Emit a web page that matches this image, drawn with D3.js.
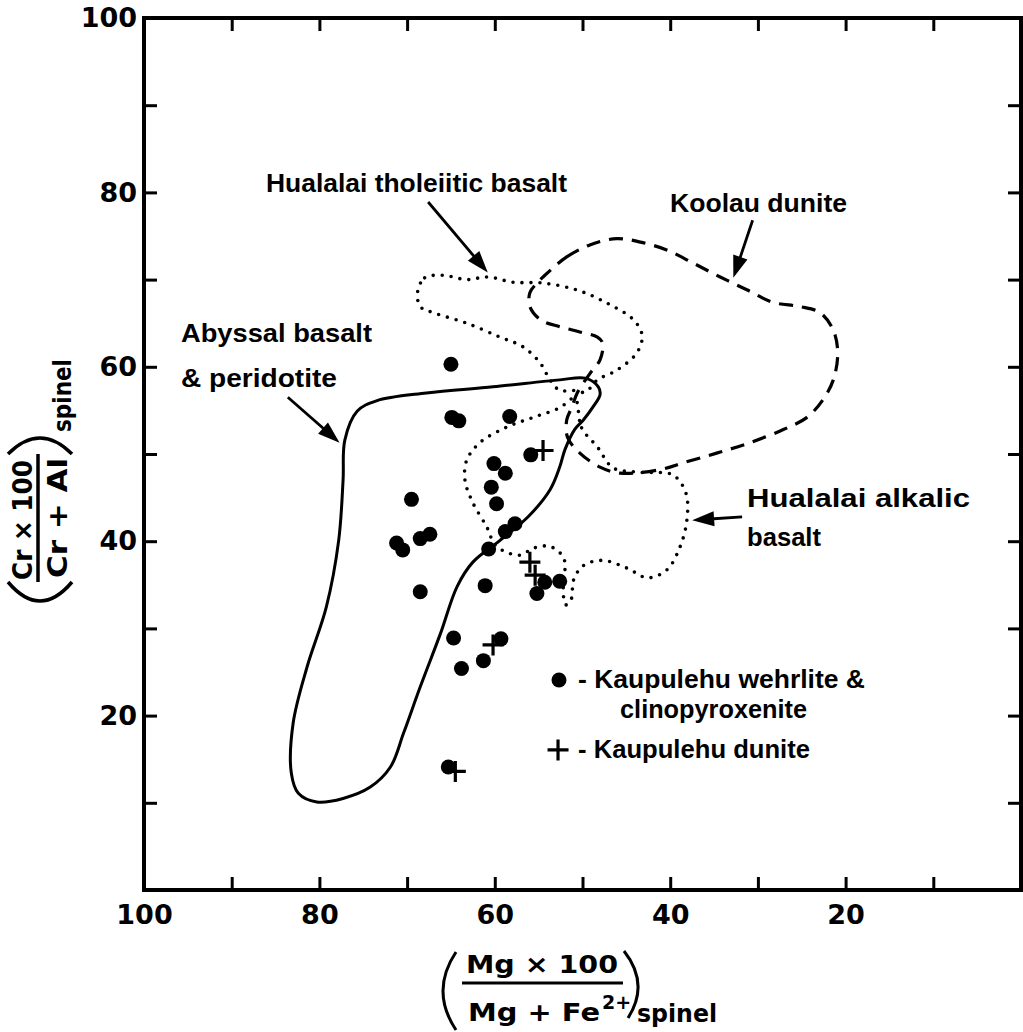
<!DOCTYPE html>
<html><head><meta charset="utf-8">
<script src="https://cdn.jsdelivr.net/npm/d3@7"></script>
<style>body{margin:0;background:#fff}</style>
</head><body>
<svg id="c" width="1023" height="1032"></svg>
<script>
// ---------- DATA ----------
const xLabelValues = [100, 80, 60, 40, 20];
const yLabelValues = [100, 80, 60, 40, 20];
const tickSteps = [10, 20, 30, 40, 50, 60, 70, 80, 90];

// Kaupulehu wehrlite & clinopyroxenite  [Mg#, Cr#]
const wehrlite = [
  [65.0,60.3],[64.9,54.2],[64.1,53.8],[58.3,54.3],[55.9,49.9],[60.1,48.9],
  [58.8,47.8],[60.4,46.2],[59.8,44.3],[69.5,44.8],[71.2,39.8],[70.5,39.0],
  [68.5,40.3],[67.4,40.8],[57.7,42.0],[58.8,41.1],[60.7,39.1],[68.5,34.2],
  [61.1,34.9],[55.2,34.0],[54.3,35.3],[52.6,35.4],[64.7,28.9],[59.3,28.8],
  [63.8,25.4],[61.3,26.3],[65.3,14.1]
];
// Kaupulehu dunite
const dunite = [[54.5,50.4],[56.0,37.6],[55.4,36.1],[60.2,28.1],[64.5,13.6]];

// Field outlines
const abyssalField = [
  [49.7,58.7],[48.2,57.7],[48.0,56.8],[48.8,55.4],[49.9,53.9],[50.9,52.8],[52.0,50.5],
  [52.6,48.5],[53.7,45.9],[56.2,42.8],[59.4,40.1],[62.5,37.6],[64.3,34.8],[66.2,29.4],
  [68.5,23.3],[70.4,18.0],[71.9,14.1],[74.2,11.8],[77.3,10.5],[80.3,10.1],[82.4,11.1],
  [83.2,13.4],[83.0,19.1],[81.4,25.6],[79.2,32.5],[77.8,40.1],[77.3,47.0],[77.1,51.6],
  [75.7,54.9],[73.5,56.1],[67.8,57.0],[60.2,57.7],[52.6,58.5]
];
const tholeiiticField = [
  [68.8,68.6],[68.0,70.2],[65.9,70.5],[63.2,70.0],[60.8,70.3],[57.9,69.7],[54.5,69.6],
  [50.6,68.8],[47.2,67.3],[44.2,65.4],[43.2,63.6],[43.8,61.6],[46.1,59.6],[48.3,58.5],
  [49.7,57.1],[51.1,57.3],[52.6,57.3],[53.7,58.5],[54.8,60.4],[56.8,62.3],[59.4,63.4],
  [63.2,65.0],[67.0,66.2],[68.5,66.9]
];
const alkalicField = [
  [50.9,56.4],[50.1,53.0],[48.3,50.8],[46.5,48.4],[43.4,47.9],[39.7,47.6],[38.2,45.5],
  [38.1,42.4],[38.9,39.3],[40.4,36.7],[42.6,35.8],[44.9,36.9],[47.7,37.8],[49.9,37.2],
  [51.0,35.6],[51.3,33.3],[51.9,32.7],[52.2,34.1],[52.0,37.0],[52.2,38.2],[53.7,39.4],
  [55.6,39.2],[57.1,38.4],[58.8,38.8],[60.0,39.6],[60.9,41.6],[62.5,44.4],[63.4,47.0],
  [63.2,49.3],[61.7,51.3],[58.6,53.1],[55.6,54.2],[52.6,55.3]
];
const koolauField = [
  [54.5,70.3],[51.8,72.6],[49.1,74.0],[46.1,74.7],[43.4,74.3],[40.4,73.4],[37.4,71.9],
  [34.3,70.3],[31.2,68.8],[28.3,67.4],[25.2,66.9],[22.9,66.2],[21.4,64.2],[20.9,61.6],
  [21.4,58.5],[22.6,56.2],[24.4,54.2],[27.1,52.8],[30.9,51.3],[34.7,50.1],[38.5,49.0],
  [41.2,48.2],[45.7,47.8],[48.0,48.5],[50.3,50.1],[51.7,51.9],[51.8,53.9],[51.2,55.4],
  [50.6,57.0],[49.1,59.3],[48.0,60.8],[47.7,62.7],[48.3,63.4],[50.3,64.0],[52.6,64.6],
  [54.8,65.4],[56.0,66.9],[56.0,68.5],[55.2,69.6]
];

// Annotations: [text, startX, baselineY, widthPx]
const fieldLabels = [
  ["Hualalai  tholeiitic  basalt", 86.09, 80.05, 301],
  ["Koolau  dunite", 40.02, 77.75, 177],
  ["Abyssal  basalt", 95.78, 62.84, 191],
  ["& peridotite", 95.78, 57.68, 156],
  ["Hualalai  alkalic", 31.24, 43.92, 223],
  ["basalt", 31.24, 39.45, 74]
];
// Arrows: [fromX, fromY, tipX, tipY]
const arrows = [
  [67.6, 78.9, 60.8, 70.8],
  [30.6, 76.8, 32.8, 70.2],
  [83.6, 56.5, 77.7, 51.3],
  [31.8, 42.8, 37.5, 42.4]
];
const legendItems = [
  {symbol: "dot",  sx: 52.68, sy: 24.08, lines: [["- Kaupulehu  wehrlite  &", 50.51, 23.17, 287], ["clinopyroxenite", 45.72, 19.72, 187]]},
  {symbol: "plus", sx: 52.79, sy: 16.06, lines: [["- Kaupulehu  dunite", 50.51, 15.14, 232]]}
];

// ---------- DRAW ----------
const svg = d3.select("#c");
const x = d3.scaleLinear().domain([100, 0]).range([144, 1021]);
const y = d3.scaleLinear().domain([0, 100]).range([890, 18]);
const labelFont = "'Liberation Sans', Arial, sans-serif";
const numFont = "'DejaVu Sans', sans-serif";

const line = d3.line().x(d => x(d[0])).y(d => y(d[1])).curve(d3.curveCatmullRomClosed.alpha(0.5));

svg.append("path").attr("d", line(abyssalField)).attr("fill", "none")
  .attr("stroke", "#000").attr("stroke-width", 3).attr("stroke-linejoin", "round");
svg.append("path").attr("d", line(tholeiiticField)).attr("fill", "none")
  .attr("stroke", "#000").attr("stroke-width", 3.6).attr("stroke-linecap", "round")
  .attr("stroke-dasharray", "0 9");
svg.append("path").attr("d", line(alkalicField)).attr("fill", "none")
  .attr("stroke", "#000").attr("stroke-width", 3.6).attr("stroke-linecap", "round")
  .attr("stroke-dasharray", "0 9");
svg.append("path").attr("d", line(koolauField)).attr("fill", "none")
  .attr("stroke", "#000").attr("stroke-width", 3.2)
  .attr("stroke-dasharray", "14 9");

// points
svg.append("g").selectAll("circle").data(wehrlite).join("circle")
  .attr("cx", d => x(d[0])).attr("cy", d => y(d[1])).attr("r", 7.5).attr("fill", "#000");
const plusPath = (cx, cy, h) => `M${cx - h},${cy}H${cx + h}M${cx},${cy - h}V${cy + h}`;
svg.append("g").selectAll("path").data(dunite).join("path")
  .attr("d", d => plusPath(x(d[0]), y(d[1]), 10.5))
  .attr("stroke", "#000").attr("stroke-width", 3.2).attr("fill", "none");

// arrows
arrows.forEach(a => {
  const x0 = x(a[0]), y0 = y(a[1]), x1 = x(a[2]), y1 = y(a[3]);
  const dx = x1 - x0, dy = y1 - y0, L = Math.hypot(dx, dy);
  const ux = dx / L, uy = dy / L, nx = -uy, ny = ux;
  const hl = 22, hw = 7.5;
  svg.append("line").attr("x1", x0).attr("y1", y0)
    .attr("x2", x1 - ux * (hl - 4)).attr("y2", y1 - uy * (hl - 4))
    .attr("stroke", "#000").attr("stroke-width", 2.8);
  const bx = x1 - ux * hl, by = y1 - uy * hl;
  svg.append("path")
    .attr("d", `M${x1},${y1}L${bx + nx * hw},${by + ny * hw}L${bx - nx * hw},${by - ny * hw}Z`)
    .attr("fill", "#000");
});

// field labels
function addText(t) {
  svg.append("text").attr("x", x(t[1])).attr("y", y(t[2]))
    .attr("font-family", labelFont).attr("font-weight", "bold").attr("font-size", 25)
    .attr("textLength", t[3]).attr("lengthAdjust", "spacingAndGlyphs")
    .attr("fill", "#000").text(t[0]);
}
fieldLabels.forEach(addText);

// legend
legendItems.forEach(it => {
  if (it.symbol === "dot") {
    svg.append("circle").attr("cx", x(it.sx)).attr("cy", y(it.sy)).attr("r", 7.5).attr("fill", "#000");
  } else {
    svg.append("path").attr("d", plusPath(x(it.sx), y(it.sy), 10.5))
      .attr("stroke", "#000").attr("stroke-width", 3.2);
  }
  it.lines.forEach(addText);
});

// axes (ticks inward)
function styleAxis(g) {
  g.select(".domain").remove();
  g.selectAll(".tick line").attr("stroke", "#000").attr("stroke-width", 3);
  g.selectAll(".tick text").attr("font-family", numFont).attr("font-weight", "bold")
    .attr("font-size", 27).attr("fill", "#000");
}
const allX = tickSteps.concat([100]);
svg.append("g").attr("transform", `translate(0,${y(0)})`)
  .call(d3.axisBottom(x).tickValues(allX).tickSizeInner(-13).tickSizeOuter(0).tickPadding(15)
    .tickFormat(d => xLabelValues.includes(d) ? d : ""))
  .call(styleAxis);
svg.append("g").attr("transform", `translate(${x(100)},0)`)
  .call(d3.axisLeft(y).tickValues(tickSteps.concat([100])).tickSizeInner(-13).tickSizeOuter(0).tickPadding(7)
    .tickFormat(d => yLabelValues.includes(d) ? d : ""))
  .call(styleAxis);
svg.append("g").attr("transform", `translate(0,${y(100)})`)
  .call(d3.axisTop(x).tickValues(tickSteps).tickSizeInner(-13).tickSizeOuter(0).tickFormat(""))
  .call(styleAxis);
svg.append("g").attr("transform", `translate(${x(0)},0)`)
  .call(d3.axisRight(y).tickValues(tickSteps).tickSizeInner(-13).tickSizeOuter(0).tickFormat(""))
  .call(styleAxis);

svg.append("rect").attr("x", x(100)).attr("y", y(100))
  .attr("width", x(0) - x(100)).attr("height", y(0) - y(100))
  .attr("fill", "none").attr("stroke", "#000").attr("stroke-width", 4);

// x-axis title
const xt = svg.append("g").attr("font-family", numFont).attr("font-weight", "bold").attr("fill", "#000");
xt.append("text").attr("x", 542).attr("y", 973).attr("text-anchor", "middle").attr("font-size", 25)
  .attr("textLength", 152).attr("lengthAdjust", "spacingAndGlyphs").text("Mg × 100");
xt.append("line").attr("x1", 462).attr("x2", 623).attr("y1", 983).attr("y2", 983)
  .attr("stroke", "#000").attr("stroke-width", 3);
const den = xt.append("text").attr("x", 468).attr("y", 1021).attr("font-size", 25);
den.append("tspan").attr("textLength", 132).attr("lengthAdjust", "spacingAndGlyphs").text("Mg + Fe");
den.append("tspan").attr("font-size", 19).attr("dy", -12).attr("dx", 2).text("2+");
xt.append("text").attr("x", 637).attr("y", 1022).attr("font-size", 24)
  .attr("textLength", 80).attr("lengthAdjust", "spacingAndGlyphs").text("spinel");
xt.append("path").attr("d", "M456,952Q430,991 456,1030").attr("fill", "none")
  .attr("stroke", "#000").attr("stroke-width", 3);
xt.append("path").attr("d", "M624,951Q650,984 628,1018").attr("fill", "none")
  .attr("stroke", "#000").attr("stroke-width", 3);

// y-axis title (rotated)
const yt = svg.append("g").attr("transform", "translate(40,518) rotate(-90)")
  .attr("font-family", numFont).attr("font-weight", "bold").attr("fill", "#000");
yt.append("text").attr("x", -2).attr("y", -8).attr("text-anchor", "middle").attr("font-size", 27)
  .attr("textLength", 120).attr("lengthAdjust", "spacingAndGlyphs").text("Cr × 100");
yt.append("line").attr("x1", -64).attr("x2", 64).attr("y1", -2).attr("y2", -2)
  .attr("stroke", "#000").attr("stroke-width", 3.5);
yt.append("text").attr("x", 0).attr("y", 27).attr("text-anchor", "middle").attr("font-size", 27)
  .attr("textLength", 120).attr("lengthAdjust", "spacingAndGlyphs").text("Cr + Al");
yt.append("text").attr("x", 86).attr("y", 31).attr("font-size", 24)
  .attr("textLength", 73).attr("lengthAdjust", "spacingAndGlyphs").text("spinel");
yt.append("path").attr("d", "M-64,-32Q-102,0 -64,32").attr("fill", "none")
  .attr("stroke", "#000").attr("stroke-width", 3.5);
yt.append("path").attr("d", "M64,-32Q96,0 64,32").attr("fill", "none")
  .attr("stroke", "#000").attr("stroke-width", 3.5);
</script>
</body></html>
